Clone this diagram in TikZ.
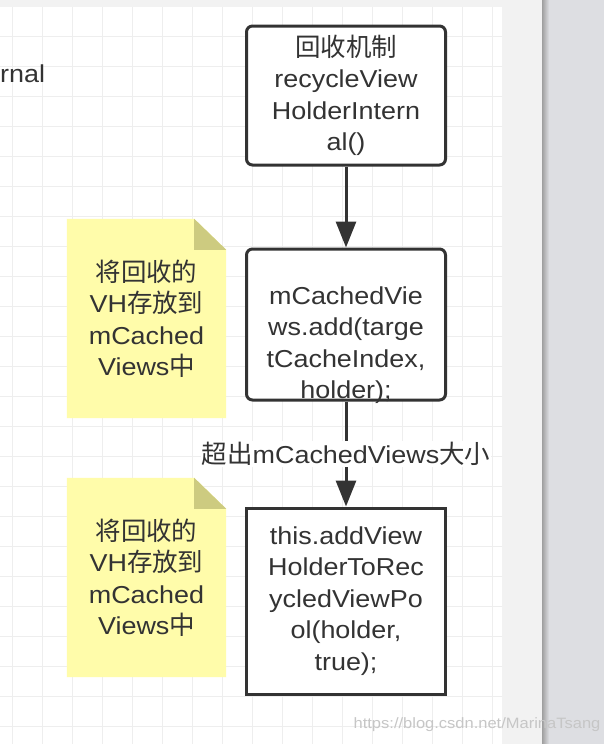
\documentclass[tikz,border=0pt]{standalone}
\usepackage{fontspec}
\setmainfont{Liberation Sans}[FakeStretch=1.1]
\newfontfamily\cjk{Noto Sans CJK SC}[Scale=1.04]
\usepackage{xcolor}
\usepackage{tikz}
\usetikzlibrary{arrows.meta, positioning, backgrounds}
\definecolor{ink}{HTML}{333333}
\definecolor{paper}{HTML}{F2F2F2}
\definecolor{desk}{HTML}{DDDEE2}
\definecolor{gridln}{HTML}{EEEEEE}
\definecolor{notey}{HTML}{FFFCAA}
\definecolor{notefold}{HTML}{CDCB80}
\tikzset{
  txt/.style={text=ink, align=center, font=\fontsize{24.5}{31.5}\selectfont, inner sep=0pt},
  box/.style={txt, rectangle, draw=ink, line width=3pt, fill=white, minimum width=199pt},
  rbox/.style={box, rounded corners=6pt},
  note/.style={txt, rectangle, minimum width=159pt, minimum height=199pt},
  arr/.style={-{Triangle[length=26pt, width=20pt]}, line width=3pt, ink},
  lbl/.style={txt, fill=white, inner sep=1pt},
  wm/.style={text=gray!45, font=\fontsize{15}{18}\selectfont, inner sep=0pt},
}

\begin{document}
\begin{tikzpicture}[x=1pt, y=-1pt]
\useasboundingbox (0,0) rectangle (604,744);
\begin{scope}[on background layer]
\fill[white] (0,0) rectangle (502,744);
\fill[paper] (0,0) rectangle (542,7);
\fill[paper] (502,0) rectangle (542,744);
\fill[desk] (542,0) rectangle (604,744);
\shade[left color=gray!75, right color=desk] (542,0) rectangle (549,744);
\foreach \k in {0,...,16} \draw[gridln, line width=1pt] ({12.7+30*\k},7) -- ({12.7+30*\k},744);
\foreach \k in {0,...,23} \draw[gridln, line width=1pt] (0,{36.7+30*\k}) -- (502,{36.7+30*\k});
\foreach \k in {0,...,3} \draw[gridln, line width=1.5pt] ({42.7+120*\k},7) -- ({42.7+120*\k},744);
\foreach \k in {0,...,5} \draw[gridln, line width=1.5pt] (0,{126.7+120*\k}) -- (502,{126.7+120*\k});
\end{scope}

\node[txt, anchor=west] (cut) at (0,74) {rnal};

\node[rbox, minimum height=139pt] (recycle) at (346,95.5) {{\cjk 回收机制}\\recycleView\\HolderIntern\\al()};
\node[rbox, minimum height=151pt, text depth=0pt, below=81pt of recycle] (cached) {\rule{0pt}{54pt}mCachedVie\\ws.add(targe\\tCacheIndex,\\holder);};
\node[box, minimum height=186pt, below=105pt of cached] (pool) {this.addView\\HolderToRec\\ycledViewPo\\ol(holder,\\true);};

\node[note] (note1) at (146.5,318.5) {{\cjk 将回收的}\\VH{\cjk 存放到}\\mCached\\Views{\cjk 中}};
\node[note] (note2) at (146.5,577.5) {{\cjk 将回收的}\\VH{\cjk 存放到}\\mCached\\Views{\cjk 中}};
\begin{scope}[on background layer]
\foreach \n in {note1, note2} {
  \fill[notey] (\n.south west) -- (\n.north west) -- ([xshift=-32pt]\n.north east) -- ([yshift=-31pt]\n.north east) -- (\n.south east) -- cycle;
  \fill[notefold] ([xshift=-32pt]\n.north east) -- ([yshift=-31pt]\n.north east) -- ([xshift=-32pt, yshift=-31pt]\n.north east) -- cycle;
}
\end{scope}

\draw[arr] (recycle) -- (cached);
\draw[arr] (cached) -- node[lbl] {{\cjk 超出}mCachedViews{\cjk 大小}} (pool);

\node[wm] (mark) at (477,725) {https://blog.csdn.net/MarinaTsang};
\end{tikzpicture}
\end{document}
